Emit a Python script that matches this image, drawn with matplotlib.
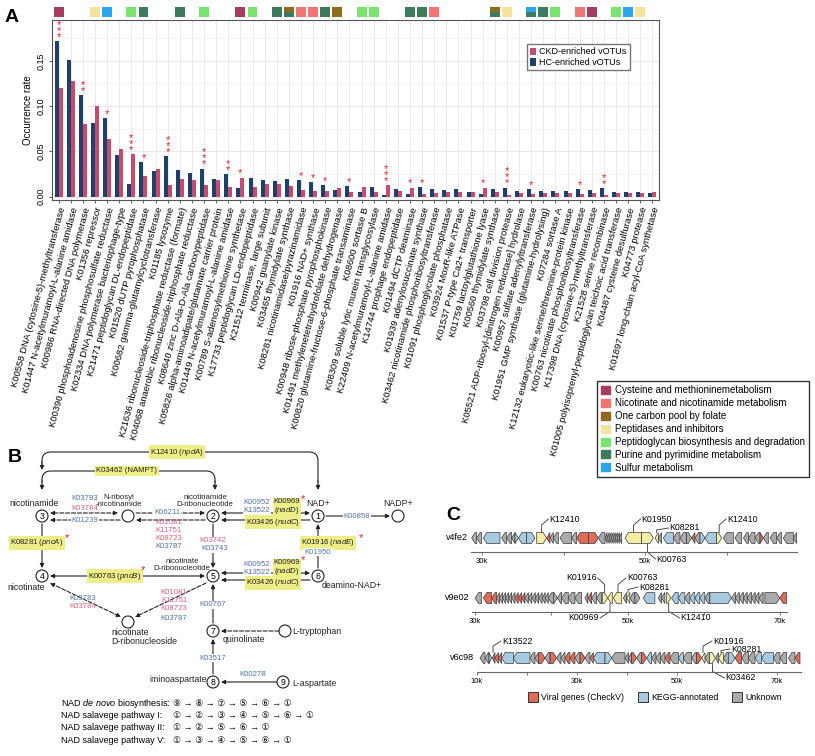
import numpy as np
import matplotlib
matplotlib.use('Agg')
import matplotlib.pyplot as plt
from matplotlib.patches import Rectangle, Circle, Polygon, Patch

plt.rcParams['font.family'] = ['Liberation Sans', 'DejaVu Sans', 'Noto Sans CJK SC']
plt.rcParams['mathtext.fontset'] = 'custom'
plt.rcParams['mathtext.rm'] = 'Liberation Sans'
plt.rcParams['mathtext.it'] = 'Liberation Sans:italic'

# ---------------- panel A data ----------------
ko_labels = [
    'K00558 DNA (cytosine-5)-methyltransferase',
    'K01447 N-acetylmuramoyl-L-alanine amidase',
    'K00986 RNA-directed DNA polymerase',
    'K01356 repressor',
    'K00390 phosphoadenosine phosphosulfate reductase',
    'K02334 DNA polymerase bacteriophage-type',
    'K21471 peptidoglycan DL-endopeptidase',
    'K01520 dUTP pyrophosphatase',
    'K00682 gamma-glutamylcyclotransferase',
    'K01185 lysozyme',
    'K21636 ribonucleoside-triphosphate reductase (formate)',
    'K04068 anaerobic ribonucleoside-triphosphate reductase',
    'K08640 zinc D-Ala-D-Ala carboxypeptidase',
    'K05826 alpha-aminoadipate/glutamate carrier protein',
    'K01449 N-acetylmuramoyl-L-alanine amidase',
    'K00789 S-adenosylmethionine synthetase',
    'K17733 peptidoglycan LD-endopeptidase',
    'K21512 terminase, large subunit',
    'K00942 guanylate kinase',
    'K03465 thymidylate synthase',
    'K08281 nicotinamidase/pyrazinamidase',
    'K01916 NAD+ synthase',
    'K00948 ribose-phosphate pyrophosphokinase',
    'K01491 methylenetetrahydrofolate dehydrogenase',
    'K00820 glutamine-fructose-6-phosphate transaminase',
    'K08600 sortase B',
    'K08309 soluble lytic murein transglycosylase',
    'K22409 N-acetylmuramoyl-L-alanine amidase',
    'K14744 prophage endopeptidase',
    'K01494 dCTP deaminase',
    'K01939 adenylosuccinate synthase',
    'K03462 nicotinamide phosphoribosyltransferase',
    'K01091 phosphoglycolate phosphatase',
    'K03924 MoxR-like ATPase',
    'K01537 P-type Ca2+ transporter',
    'K01759 lactoylglutathione lyase',
    'K00560 thymidylate synthase',
    'K03798 cell division protease',
    'K05521 ADP-ribosyl-[dinitrogen reductase] hydrolase',
    'K00957 sulfate adenylyltransferase',
    'K01951 GMP synthase (glutamine-hydrolysing)',
    'K07284 sortase A',
    'K12132 eukaryotic-like serine/threonine-protein kinase',
    'K00763 nicotinate phosphoribosyltransferase',
    'K17398 DNA (cytosine-5)-methyltransferase',
    'K21528 serine recombinase',
    'K01005 polyisoprenyl-peptidoglycan teichoic acid transferase',
    'K04487 cysteine desulfurase',
    'K04773 protease',
    'K01897 long-chain acyl-CoA synthetase',
]
hc_rate = [0.172, 0.151, 0.112, 0.081, 0.087, 0.046, 0.014, 0.038, 0.028, 0.045,
           0.029, 0.026, 0.031, 0.020, 0.025, 0.010, 0.021, 0.018, 0.017, 0.019,
           0.018, 0.016, 0.013, 0.007, 0.012, 0.005, 0.011, 0.002, 0.008, 0.003,
           0.011, 0.0085, 0.0075, 0.008, 0.0055, 0.003, 0.008, 0.010, 0.0065, 0.008,
           0.006, 0.0065, 0.006, 0.0085, 0.0075, 0.009, 0.005, 0.0055, 0.005, 0.0035]
ckd_rate = [0.120, 0.128, 0.080, 0.100, 0.064, 0.053, 0.047, 0.023, 0.031, 0.013,
            0.020, 0.018, 0.013, 0.018, 0.011, 0.021, 0.011, 0.014, 0.014, 0.012,
            0.007, 0.006, 0.006, 0.010, 0.005, 0.011, 0.005, 0.013, 0.006, 0.010,
            0.003, 0.0045, 0.005, 0.005, 0.0055, 0.010, 0.005, 0.002, 0.0045, 0.003,
            0.0045, 0.0045, 0.004, 0.0025, 0.004, 0.002, 0.0045, 0.0045, 0.004, 0.005]
signif = ['***', '', '**', '', '*', '', '***', '*', '', '***',
          '', '', '***', '', '**', '*', '', '', '', '',
          '*', '*', '*', '', '*', '', '', '***', '', '*',
          '*', '', '', '', '', '*', '', '***', '', '*',
          '', '', '', '*', '', '**', '', '', '', '']
pathway = ['cys', '', '', 'pep', 'sul', '', 'pgn', 'pur', '', '',
           'pur', '', 'pgn', '', '', 'cys', 'pgn', '', 'pur', 'one+pur',
           'nic', 'nic', 'pur', 'one', '', 'pgn', 'pgn', '', '', 'pur',
           'pur', 'nic', '', '', '', '', 'one+pur', 'pep', '', 'sul+pur',
           'pur', 'pgn', '', 'nic', 'cys', '', 'pgn', 'sul', 'pep', '']
cat_keys = ['cys', 'nic', 'one', 'pep', 'pgn', 'pur', 'sul']
cat_names = ['Cysteine and methioninemetabolism', 'Nicotinate and nicotinamide metabolism',
             'One carbon pool by folate', 'Peptidases and inhibitors',
             'Peptidoglycan biosynthesis and degradation', 'Purine and pyrimidine metabolism',
             'Sulfur metabolism']
cat_colors = {'cys': '#A63D5F', 'nic': '#F27474', 'one': '#8E6B1E', 'pep': '#F5E2A0',
              'pgn': '#7BE36F', 'pur': '#3E7A5E', 'sul': '#2BA6EA'}

# ---------------- panel C data (kb) ----------------
track_names = ['v4fe2', 'v9e02', 'v6c98']
genes_v4fe2 = [
    (28.73, 29.35, -1, 'u'), (29.35, 29.96, -1, 'u'), (30.16, 32.21, -1, 'k'), (32.41, 33.03, -1, 'u'),
    (33.03, 33.64, -1, 'u'), (33.64, 34.05, -1, 'u'), (34.05, 34.46, 1, 'k'), (34.46, 35.48, -1, 'k'),
    (35.48, 36.50, 1, 'k'), (36.71, 37.93, 1, 'y'), (37.93, 38.34, -1, 'v'), (38.34, 38.75, -1, 'u'),
    (38.75, 39.37, -1, 'u'), (39.57, 41.00, -1, 'u'), (41.00, 41.62, -1, 'u'), (41.62, 43.05, -1, 'v'),
    (43.05, 44.27, 1, 'v'), (44.27, 45.09, -1, 'u'), (45.10, 45.35, -1, 'u'), (45.35, 45.60, -1, 'u'),
    (45.60, 45.85, -1, 'u'), (45.85, 46.10, -1, 'u'), (46.10, 46.35, -1, 'u'), (46.35, 46.60, -1, 'u'),
    (46.60, 46.85, -1, 'u'), (46.85, 47.14, -1, 'u'), (47.55, 49.59, -1, 'y'), (49.59, 51.02, 1, 'y'),
    (51.23, 51.64, -1, 'y'), (51.64, 52.04, -1, 'u'), (52.25, 53.48, -1, 'k'), (53.48, 54.29, -1, 'u'),
    (54.29, 55.11, -1, 'u'), (55.11, 55.73, 1, 'u'), (55.73, 56.13, -1, 'v'), (56.13, 56.75, -1, 'u'),
    (56.75, 57.36, 1, 'k'), (57.36, 58.79, -1, 'k'), (58.79, 59.41, 1, 'y'), (59.61, 60.84, -1, 'u'),
    (61.04, 61.86, -1, 'u'), (62.07, 62.68, -1, 'u'), (62.68, 63.50, -1, 'u'), (63.50, 64.11, -1, 'u'),
    (64.11, 64.52, 1, 'v'), (64.52, 65.13, -1, 'u'), (65.34, 66.16, -1, 'u'), (66.16, 66.77, -1, 'u'),
    (66.97, 68.20, -1, 'u'), (68.20, 68.60, -1, 'u'),
]
genes_v9e02 = [
    (30.00, 30.87, -1, 'u'), (31.09, 32.18, -1, 'v'), (32.18, 32.84, -1, 'v'), (32.84, 33.20, -1, 'u'),
    (33.20, 33.60, -1, 'u'), (33.60, 34.00, -1, 'u'), (34.00, 34.40, -1, 'u'), (34.40, 34.80, -1, 'u'),
    (34.80, 35.24, -1, 'u'), (35.24, 35.66, -1, 'v'), (35.66, 36.10, -1, 'v'), (36.10, 36.55, -1, 'v'),
    (36.55, 37.00, -1, 'u'), (37.00, 37.45, -1, 'u'), (37.45, 37.90, -1, 'u'), (37.90, 38.35, -1, 'u'),
    (38.35, 38.80, -1, 'u'), (38.80, 39.20, -1, 'u'), (39.20, 39.61, -1, 'u'), (39.61, 40.27, -1, 'u'),
    (40.27, 40.80, 1, 'u'), (40.80, 41.36, -1, 'u'), (41.36, 42.23, -1, 'u'), (42.23, 43.11, -1, 'u'),
    (43.11, 43.98, -1, 'u'), (44.42, 44.80, -1, 'u'), (44.80, 45.29, -1, 'v'), (45.29, 45.95, -1, 'u'),
    (45.95, 46.60, -1, 'u'), (46.70, 47.40, 1, 'y'), (47.40, 48.00, -1, 'y'), (48.13, 49.22, -1, 'y'),
    (49.44, 49.88, -1, 'u'), (49.88, 50.31, -1, 'y'), (50.31, 50.97, -1, 'u'), (50.97, 51.63, 1, 'u'),
    (52.06, 53.59, -1, 'k'), (54.03, 54.45, -1, 'u'), (54.45, 54.90, -1, 'u'), (55.12, 55.69, 1, 'y'),
    (55.78, 56.65, -1, 'k'), (56.65, 57.52, -1, 'k'), (57.52, 58.18, -1, 'u'), (58.18, 58.83, -1, 'k'),
    (58.83, 59.49, -1, 'k'), (59.49, 60.14, -1, 'k'), (60.14, 60.80, -1, 'u'), (60.80, 63.64, 1, 'k'),
    (63.64, 64.15, -1, 'u'), (64.15, 64.66, -1, 'u'), (64.66, 65.20, -1, 'u'), (65.20, 65.70, -1, 'u'),
    (65.70, 66.26, -1, 'u'), (66.26, 66.75, -1, 'u'), (66.75, 67.25, -1, 'u'), (67.25, 67.79, -1, 'u'),
    (68.01, 69.97, 1, 'u'), (69.97, 70.85, -1, 'v'),
]
genes_v6c98 = [
    (10.60, 11.60, -1, 'u'), (11.60, 12.40, -1, 'u'), (12.40, 12.93, 1, 'k'), (13.07, 13.60, -1, 'v'),
    (13.60, 14.27, -1, 'v'), (14.27, 14.93, -1, 'v'), (14.93, 17.27, -1, 'k'), (17.27, 20.60, -1, 'k'),
    (20.60, 21.60, -1, 'u'), (21.60, 22.27, -1, 'u'), (22.27, 23.60, 1, 'v'), (23.60, 24.60, -1, 'u'),
    (24.60, 25.93, 1, 'v'), (25.93, 26.80, -1, 'u'), (26.80, 27.60, -1, 'u'), (27.60, 28.60, -1, 'v'),
    (28.60, 29.60, -1, 'v'), (29.60, 30.60, -1, 'u'), (30.60, 31.60, 1, 'v'), (31.60, 32.60, -1, 'u'),
    (32.60, 33.27, -1, 'v'), (33.27, 35.60, -1, 'k'), (35.60, 36.93, 1, 'k'), (36.93, 39.60, -1, 'u'),
    (39.60, 40.30, -1, 'u'), (40.30, 40.93, -1, 'u'), (40.93, 41.93, 1, 'v'), (41.93, 42.93, -1, 'u'),
    (42.93, 43.93, 1, 'v'), (43.93, 44.93, -1, 'k'), (44.93, 45.80, -1, 'u'), (45.80, 46.70, -1, 'u'),
    (46.70, 47.60, -1, 'u'), (47.60, 48.60, -1, 'v'), (48.60, 50.27, -1, 'u'), (50.27, 51.27, -1, 'k'),
    (51.27, 52.93, -1, 'u'), (52.93, 53.93, -1, 'u'), (53.93, 54.93, 1, 'v'), (54.93, 55.60, -1, 'y'),
    (55.60, 56.50, -1, 'u'), (56.50, 57.70, 1, 'y'), (57.70, 58.27, -1, 'u'), (58.27, 59.27, -1, 'y'),
    (59.27, 60.27, -1, 'u'), (60.27, 61.60, 1, 'k'), (61.60, 62.93, -1, 'v'), (62.93, 64.27, -1, 'u'),
    (64.27, 65.60, -1, 'u'), (65.60, 66.93, -1, 'k'), (66.93, 69.27, -1, 'k'), (69.27, 70.60, -1, 'u'),
    (70.60, 71.93, -1, 'u'), (72.27, 73.60, -1, 'u'), (73.60, 74.60, -1, 'v'),
]
# (gene position kb, label, text dx px, text dy px)
callouts_v4fe2 = [(37.3, 'K12410', 7, 19), (48.6, 'K01950', 7, 19), (51.4, 'K08281', 12, 10),
                  (59.1, 'K12410', 7, 19), (50.3, 'K00763', 8, -21)]
callouts_v9e02 = [(47.0, 'K01916', -7, 20), (48.75, 'K00763', 8, 20), (50.07, 'K08281', 10, 11),
                  (47.7, 'K00969', -10, -20), (55.4, 'K12410', 11, -20)]
callouts_v6c98 = [(13.2, 'K13522', 8, 17), (55.2, 'K01916', 9, 17), (58.8, 'K08281', 9, 9),
                  (57.1, 'K03462', 12, -20)]

W, H = 815, 756
fig = plt.figure(figsize=(W / 100, H / 100), dpi=100)

# overlay in pixel coordinates for the schematic parts
ov = fig.add_axes([0, 0, 1, 1])
ov.set_xlim(0, W)
ov.set_ylim(H, 0)
ov.axis('off')

# ---------------- panel A ----------------
axA = fig.add_axes([52 / W, 1 - 200 / H, 607 / W, 180 / H])
x = np.arange(len(ko_labels))
b_hc = axA.bar(x - 0.165, hc_rate, 0.33, color='#1F4068', label='HC-enriched vOTUs', zorder=2)
b_ckd = axA.bar(x + 0.165, ckd_rate, 0.33, color='#C64B6C', label='CKD-enriched vOTUs', zorder=2)
axA.set_xlim(-0.55, len(x) - 0.45)
axA.set_ylim(-0.0037, 0.195)
axA.set_yticks([0, 0.05, 0.10, 0.15])
axA.set_yticks([0.025, 0.075, 0.125, 0.175], minor=True)
axA.set_yticklabels(['0.00', '0.05', '0.10', '0.15'], rotation=90, va='center', fontsize=6.5)
axA.set_xticks(x)
axA.set_xticklabels(ko_labels, rotation=75, ha='right', rotation_mode='anchor', fontsize=6.8)
axA.grid(True, which='major', color='#E6E6E6', lw=0.6)
axA.grid(True, which='minor', axis='y', color='#F0F0F0', lw=0.5)
axA.set_axisbelow(True)
axA.tick_params(axis='both', which='major', length=2.5, width=0.6, color='#444444', pad=2)
axA.tick_params(axis='y', which='minor', length=0)
for sp in axA.spines.values():
    sp.set_color('#555555')
    sp.set_linewidth(0.8)
axA.set_ylabel('Occurrence rate', fontsize=7, labelpad=3)
axA.legend([b_ckd, b_hc], ['CKD-enriched vOTUs', 'HC-enriched vOTUs'], loc='upper left',
           bbox_to_anchor=(0.775, 0.89), fontsize=6.5, handlelength=0.6, handleheight=0.9,
           handletextpad=0.4, labelspacing=0.2, borderpad=0.35, fancybox=False,
           edgecolor='#777777', framealpha=1)

for i, s in enumerate(signif):
    if s:
        top = max(hc_rate[i], ckd_rate[i])
        axA.text(i, top - 0.001, '\n'.join(s), ha='center', va='bottom', color='#E0262B',
                 fontsize=8, linespacing=0.5)

trans = axA.get_xaxis_transform()
for i, c in enumerate(pathway):
    if not c:
        continue
    parts = c.split('+')
    hgt = 0.055 / len(parts)
    for k, p in enumerate(parts):
        y0 = 1.017 + (len(parts) - 1 - k) * hgt
        axA.add_patch(Rectangle((i - 0.41, y0), 0.82, hgt, transform=trans, clip_on=False,
                                color=cat_colors[p], lw=0))

fig.legend([Patch(color=cat_colors[k]) for k in cat_keys], cat_names, loc='upper left',
           bbox_to_anchor=(592 / W, 1 - 376 / H), fontsize=7, handlelength=0.9, handleheight=0.9,
           handletextpad=0.5, labelspacing=0.3, borderpad=0.45, fancybox=False,
           edgecolor='#333333', framealpha=1)

# ---------------- panel B ----------------
BLUE = '#4F74A6'
PINK = '#D4617F'
YEL = '#EEEE88'
K = '#222222'


def arr(p0, p1, style='-|>', ls='-'):
    ov.annotate('', xy=p1, xytext=p0,
                arrowprops=dict(arrowstyle=style, color=K, lw=0.8, linestyle=ls,
                                shrinkA=0, shrinkB=0, mutation_scale=6))


def node(xy, num=''):
    ov.add_patch(Circle(xy, 6, fc='white', ec=K, lw=0.8, zorder=3))
    if num:
        ov.text(xy[0], xy[1] + 0.3, num, ha='center', va='center', fontsize=6.3, zorder=4)


def ko(xy, s, c, bg=False):
    ov.text(xy[0], xy[1], s, color=c, fontsize=5.6, ha='center', va='center', zorder=5,
            bbox=dict(fc='white', ec='none', pad=0.4) if bg else None)


def hl(xy, s):
    ov.text(xy[0], xy[1], s, color=K, fontsize=5.6, ha='center', va='center', zorder=5,
            linespacing=1.1, bbox=dict(boxstyle='square,pad=0.15', fc=YEL, ec='none'))


def star(xy):
    ov.text(xy[0], xy[1], '*', color='#E02020', fontsize=8, ha='center', va='center', zorder=6)


def lab(xy, s, ha='center', fs=6.3):
    ov.text(xy[0], xy[1], s, ha=ha, va='center', fontsize=fs, color=K, linespacing=1.0)


def rounded(pts, r=9):
    out = [np.array(pts[0], float)]
    for i in range(1, len(pts) - 1):
        p0, p1, p2 = (np.array(p, float) for p in pts[i - 1:i + 2])
        d1 = (p1 - p0) / np.linalg.norm(p1 - p0)
        d2 = (p2 - p1) / np.linalg.norm(p2 - p1)
        a, b = p1 - d1 * r, p1 + d2 * r
        t = np.linspace(0, 1, 10)[:, None]
        out.extend((1 - t) ** 2 * a + 2 * (1 - t) * t * p1 + t ** 2 * b)
    out.append(np.array(pts[-1], float))
    return np.array(out)


ov.text(15, 458, 'B', fontsize=14, fontweight='bold', ha='center', va='center')
ov.text(12, 17, 'A', fontsize=14, fontweight='bold', ha='center', va='center')
ov.text(453, 515, 'C', fontsize=14, fontweight='bold', ha='center', va='center')

# arcs
arc1 = rounded([(318, 482), (318, 452), (42, 452), (42, 463)])
ov.plot(arc1[:, 0], arc1[:, 1], color=K, lw=0.8)
arr((42, 462), (42, 470))
arr((318, 481), (318, 490))
hl((177, 452), 'K12410 ($\\it{npdA}$)')
arc2 = rounded([(42, 482), (42, 471), (215, 471), (215, 482)])
ov.plot(arc2[:, 0], arc2[:, 1], color=K, lw=0.8)
arr((42, 481), (42, 490))
arr((215, 481), (215, 490))
hl((127, 471), 'K03462 (NAMPT)')

# nodes
P3, PN, P2, P1, PP = (42, 516), (128, 516), (213, 516), (318, 516), (398, 516)
P4, P5, P6 = (42, 576), (213, 576), (318, 576)
PR, P7, PT, P8, P9 = (128, 622), (213, 631), (285, 631), (213, 682), (283, 682)
for p, n in [(P3, '3'), (P2, '2'), (P1, '1'), (P4, '4'), (P5, '5'), (P6, '6'),
             (P7, '7'), (P8, '8'), (P9, '9')]:
    node(p, n)
for p in [PN, PP, PR, PT]:
    node(p)

lab((34, 504), 'nicotinamide')
lab((119, 501), 'N-ribosyl\n-nicotinamide', fs=5.6)
lab((205, 501), 'nicotinamide\nD-ribonucleotide', fs=5.6)
lab((318, 504), 'NAD+')
lab((398, 504), 'NADP+')
lab((26, 587), 'nicotinate')
lab((182, 565), 'nicotinate\nD-ribonucleotide', fs=5.6)
lab((322, 586), 'deamino-NAD+', ha='left')
lab((111, 637), 'nicotinate\nD-ribonucleoside', ha='left')
lab((223, 640), 'quinolinate', ha='left')
lab((292, 631), 'L-tryptophan', ha='left')
lab((207, 680), 'iminoaspartate', ha='right')
lab((292, 683), 'L-aspartate', ha='left')

# edges
arr((118, 513), (50, 513), '<|-|>', '--')
arr((120, 520), (50, 520), '-|>', '--')
arr((136, 513), (205, 513), '-|>', '--')
arr((205, 520), (136, 520), '-|>', '--')
arr((221, 513), (310, 513), '<|-|>')
arr((310, 520), (221, 520), '-|>')
arr((326, 516), (390, 516))
arr((213, 524), (213, 568))
arr((42, 524), (42, 568))
arr((318, 568), (318, 524))
arr((50, 576), (205, 576), '<|-|>')
arr((221, 573), (310, 573), '<|-|>')
arr((310, 580), (221, 580), '-|>')
arr((50, 583), (121, 617), '<|-|>', '--')
arr((206, 583), (135, 617), '-|>', '--')
arr((213, 623), (213, 584))
arr((279, 631), (221, 631), '-|>', '--')
arr((213, 674), (213, 639))
arr((277, 682), (221, 682))

ko((85, 499), 'K03783', BLUE)
ko((85, 508), 'K03784', PINK)
ko((85, 520), 'K01239', BLUE, bg=True)
ko((167, 513), 'K06211', BLUE, bg=True)
for yy, s, c in [(522, 'K01081', PINK), (530, 'K11751', PINK), (538, 'K08723', PINK), (546, 'K03787', BLUE)]:
    ko((169, yy), s, c)
ko((257, 503), 'K00952', BLUE)
ko((257, 511), 'K13522', BLUE, bg=True)
hl((287, 507), 'K00969\n($\\it{nadD}$)')
star((303, 499))
hl((273, 522), 'K03426 ($\\it{nudC}$)')
ko((357, 516), 'K00858', BLUE, bg=True)
hl((37, 543), 'K08281 ($\\it{pncA}$)')
star((67, 538))
ko((213, 541), 'K03742', PINK, bg=True)
ko((215, 549), 'K03743', BLUE, bg=True)
hl((328, 543), 'K01916 ($\\it{nadE}$)')
star((361, 538))
ko((318, 552), 'K01950', BLUE, bg=True)
hl((115, 576), 'K00763 ($\\it{pncB}$)')
star((143, 570))
ko((257, 564), 'K00952', BLUE)
ko((257, 572), 'K13522', BLUE, bg=True)
hl((287, 568), 'K00969\n($\\it{nadD}$)')
star((303, 560))
hl((273, 583), 'K03426 ($\\it{nudC}$)')
ko((83, 599), 'K03783', BLUE)
ko((83, 607), 'K03784', PINK)
for yy, s, c in [(593, 'K01081', PINK), (601, 'K11751', PINK), (609, 'K08723', PINK), (618, 'K03787', BLUE)]:
    ko((174, yy), s, c)
ko((213, 605), 'K00767', BLUE, bg=True)
ko((213, 658), 'K03517', BLUE, bg=True)
ko((253, 675), 'K00278', BLUE)

path_names = ['NAD $\\it{de\\ novo}$ biosynthesis:', 'NAD salavege pathway I:',
              'NAD salavege pathway II:', 'NAD salavege pathway V:']
path_steps = ['\u2468 \u2192 \u2467 \u2192 \u2466 \u2192 \u2464 \u2192 \u2465 \u2192 \u2460',
              '\u2460 \u2192 \u2461 \u2192 \u2462 \u2192 \u2463 \u2192 \u2464 \u2192 \u2465 \u2192 \u2460',
              '\u2460 \u2192 \u2461 \u2192 \u2464 \u2192 \u2465 \u2192 \u2460',
              '\u2460 \u2192 \u2462 \u2192 \u2463 \u2192 \u2464 \u2192 \u2465 \u2192 \u2460']
for j, (nm, st) in enumerate(zip(path_names, path_steps)):
    yy = 703 + j * 12.5
    ov.text(61, yy, nm, fontsize=6.5, va='center', ha='left')
    ov.text(173, yy, st, fontsize=6.5, va='center', ha='left')

# ---------------- panel C ----------------
gene_colors = {'v': '#E06B5A', 'k': '#A7CAE0', 'u': '#ABABAB', 'y': '#F3EFA5'}
tracks = [
    (genes_v4fe2, callouts_v4fe2, 471, 797, 552, (28.65, 68.65), [30, 40, 50, 60], ['30k', '', '50k', '']),
    (genes_v9e02, callouts_v9e02, 472, 787, 612, (29.6, 70.92), [30, 40, 50, 60, 70],
     ['30k', '', '50k', '', '70k']),
    (genes_v6c98, callouts_v6c98, 477, 801, 672, (10.0, 74.8), [10, 20, 30, 40, 50, 60, 70],
     ['10k', '', '30k', '', '50k', '', '70k']),
]
for name, (genes, calls, x0, x1, yb, xl, tks, tls) in zip(track_names, tracks):
    ax = fig.add_axes([x0 / W, 1 - yb / H, (x1 - x0) / W, 40 / H])
    ax.patch.set_alpha(0)
    ax.set_xlim(*xl)
    ax.set_ylim(0, 40)
    ppk = (x1 - x0) / (xl[1] - xl[0])
    for sp in ['top', 'left', 'right']:
        ax.spines[sp].set_visible(False)
    ax.spines['bottom'].set_color('#666666')
    ax.spines['bottom'].set_linewidth(0.8)
    ax.set_yticks([])
    ax.set_xticks(tks)
    ax.set_xticklabels(tls, fontsize=5.5)
    ax.tick_params(axis='x', length=2.5, width=0.6, color='#666666', pad=1.5)
    c, h = 14, 5.5
    for s, e, strand, kind in genes:
        head = min(3.5 / ppk, e - s)
        if strand > 0:
            pts = [(s, c - h), (e - head, c - h), (e, c), (e - head, c + h), (s, c + h)]
        else:
            pts = [(e, c - h), (s + head, c - h), (s, c), (s + head, c + h), (e, c + h)]
        ax.add_patch(Polygon(pts, closed=True, fc=gene_colors[kind], ec='#3A3A3A', lw=0.5, zorder=3))
    for g, txt, dx, dy in calls:
        sgn = 1 if dy > 0 else -1
        yc = c + sgn * h
        ycorner = yc + (c + dy - yc) * 0.55
        xe = g + dx / ppk
        ax.plot([g, g, xe], [yc, ycorner, c + dy], color='#333333', lw=0.6, clip_on=False)
        ax.text(xe + np.sign(dx) * 1.0 / ppk, c + dy, txt, fontsize=6.3, va='center',
                ha='left' if dx > 0 else 'right', clip_on=False)
    ov.text(x0 - 3, yb - 14, name, fontsize=6.5, ha='right', va='center')

for (lx, col, txt) in [(528, gene_colors['v'], 'Viral genes (CheckV)'),
                       (638, gene_colors['k'], 'KEGG-annotated'),
                       (732, gene_colors['u'], 'Unknown')]:
    ov.add_patch(Rectangle((lx, 692), 10, 10, fc=col, ec='#333333', lw=0.7))
    ov.text(lx + 13, 697.5, txt, fontsize=6.3, va='center', ha='left')

fig.savefig('out.png', dpi=100)
